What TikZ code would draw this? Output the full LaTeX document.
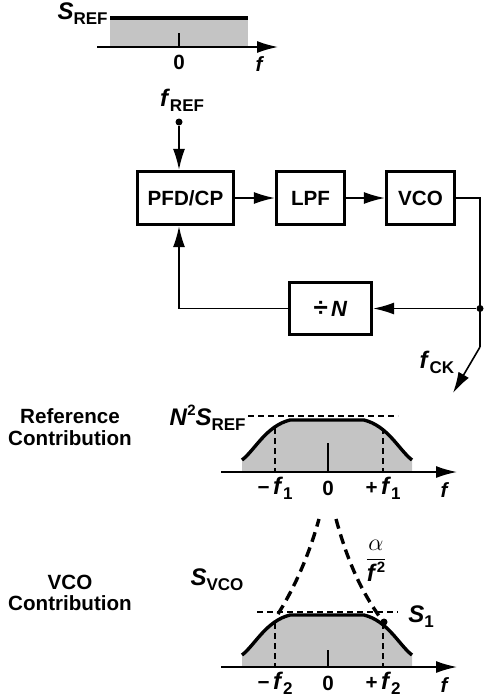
\documentclass[tikz,border=0pt]{standalone}
\usepackage{amsmath}
\usepackage{fontspec}
\setmainfont{Liberation Sans}
\usetikzlibrary{arrows.meta, positioning}
\newcommand{\sig}[2]{{\fontsize{12}{12}\selectfont\textit{#1}}\raisebox{-0.45ex}{\fontsize{8.5}{8.5}\selectfont #2}}
\newcommand{\pw}[2]{{\fontsize{12}{12}\selectfont\textit{#1}}\raisebox{0.9ex}{\fontsize{7.5}{7.5}\selectfont #2}}

\begin{document}
\begin{tikzpicture}[
    x=0.5pt, y=-0.5pt,
    every node/.style={font=\bfseries\fontsize{10.3}{10.8}\selectfont},
    block/.style={draw, line width=1.65pt, minimum height=26.5pt, inner sep=0pt},
    wire/.style={line width=0.8pt},
    arrow/.style={wire, -{Latex[length=10.5pt,width=6pt]}},
    curve/.style={line width=1.7pt},
    spectrum/.style={fill=black!23},
    guide/.style={densely dashed, line width=0.7pt},
    slope/.style={dash pattern=on 5pt off 3pt, line width=1.7pt},
    dotnode/.style={circle, fill, inner sep=0pt, minimum size=3.5pt}
]
\useasboundingbox (0,0) rectangle (483,696);

% Reference spectrum
\fill[spectrum] (110,18) rectangle (248,47);
\draw[line width=2pt] (110,18) -- (248,18);
\draw[arrow] (97,47) -- (278,47);
\draw[wire] (179,33) -- (179,47);
\node (zero0) at (179,62) {0};
\node (ax0) at (260,64) {\textit{f}};
\node[anchor=east, inner sep=1pt] (sref) at (110,14) {\sig{S}{REF}};

% PLL loop
\node[block, minimum width=48pt] (pfd) at (185.5,198) {PFD/CP};
\node[block, minimum width=34pt] (lpf) at (310.5,198) {LPF};
\node[block, minimum width=34pt] (vco) at (420.5,198) {VCO};
\node[block, minimum width=41pt, minimum height=26pt] (div) at (330.5,308.5) {{\fontsize{13}{13}\selectfont ÷}\,{\fontsize{11}{11}\selectfont\textit{N}}};
\draw[arrow] (pfd) -- (lpf);
\draw[arrow] (lpf) -- (vco);

\node[dotnode] (frefdot) at (179,122) {};
\node (freflbl) at (182,100) {\sig{f}{REF}};
\draw[arrow] (frefdot) -- (frefdot |- pfd.north);

\node[dotnode] (tap) at (480,308.5) {};
\coordinate (bend) at (480,347);
\coordinate (ck) at (453,393);
\draw[wire] (vco.east) -| (tap.center) -- (bend);
\draw[arrow] (bend) -- (ck);
\node (cklbl) at (437,362) {\sig{f}{CK}};
\draw[arrow] (tap) -- (div.east);
\draw[arrow] (div.west) -| (frefdot |- pfd.south);

% Reference contribution
\node[align=center] (reftxt) at (70,427) {Reference\\Contribution};
\fill[spectrum] (242,460) .. controls (255,450) and (266,426) .. (290,420) -- (364,420)
    .. controls (388,426) and (399,450) .. (412,460) -- (412,472) -- (242,472) -- cycle;
\draw[curve] (242,460) .. controls (255,450) and (266,426) .. (290,420) -- (364,420)
    .. controls (388,426) and (399,450) .. (412,460);
\draw[guide] (275,428) -- (275,472);
\draw[guide] (383,428) -- (383,472);
\draw[wire] (328,443) -- (328,472);
\draw[arrow] (221,472) -- (457,472);
\draw[guide] (248,416) -- (398,416);
\node[anchor=east, inner sep=1pt] (n2sref) at (248,418) {\pw{N}{2}\sig{S}{REF}};
\node (mf1) at (275,488) {−\,\sig{f}{1}};
\node (zero1) at (328,488) {0};
\node (pf1) at (383,488) {+\,\sig{f}{1}};
\node (ax1) at (445,490) {\textit{f}};

% VCO contribution
\node[align=center] (vcotxt) at (70,593) {VCO\\Contribution};
\fill[spectrum] (242,655) .. controls (255,645) and (266,621) .. (290,615) -- (364,615)
    .. controls (388,621) and (399,645) .. (412,655) -- (412,667) -- (242,667) -- cycle;
\draw[curve] (242,655) .. controls (255,645) and (266,621) .. (290,615) -- (364,615)
    .. controls (388,621) and (399,645) .. (412,655);
\draw[guide] (275,623) -- (275,667);
\draw[guide] (383,623) -- (383,667);
\draw[wire] (328,650) -- (328,667);
\draw[arrow] (221,667) -- (457,667);
\draw[guide] (257,612) -- (398,612);
\draw[slope] (278,614) .. controls (298,582) and (311,548) .. (319,519);
\draw[slope] (336,519) .. controls (344,548) and (356,585) .. (382,620);
\node[dotnode] (s1dot) at (384,622) {};
\node (svco) at (217,580) {\sig{S}{VCO}};
\node (s1lbl) at (421,617) {\sig{S}{1}};
\node (alpha) at (376,561) {$\dfrac{\mbox{\fontsize{13}{13}\selectfont$\alpha$}}{\mbox{\pw{f}{2}}}$};
\node (mf2) at (275,683) {−\,\sig{f}{2}};
\node (zero2) at (328,683) {0};
\node (pf2) at (383,683) {+\,\sig{f}{2}};
\node (ax2) at (445,685) {\textit{f}};
\end{tikzpicture}
\end{document}
